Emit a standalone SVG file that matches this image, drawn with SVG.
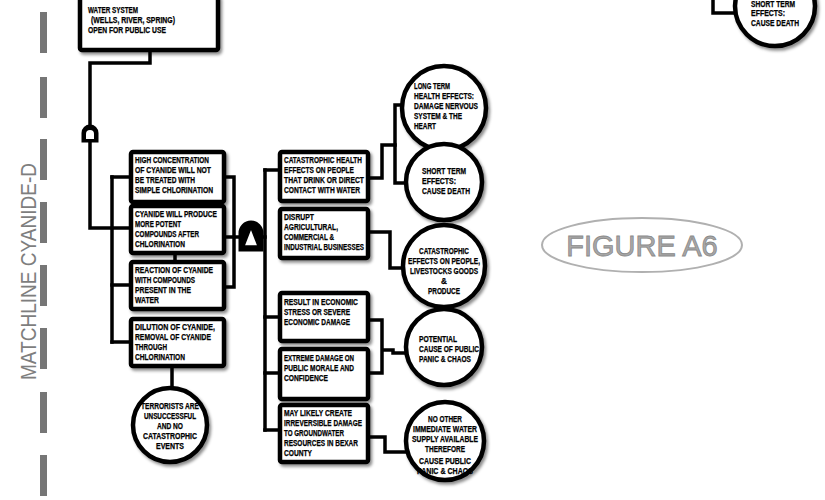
<svg xmlns="http://www.w3.org/2000/svg" width="825" height="500" viewBox="0 0 825 500">
  <defs>
    <filter id="ds" x="-20%" y="-20%" width="140%" height="140%">
      <feDropShadow dx="2" dy="2.5" stdDeviation="1.5" flood-color="#000" flood-opacity="0.45"/>
    </filter>
  </defs>
  <style>
    .box { fill: #fff; stroke: #000; stroke-width: 4.5; filter: url(#ds); }
    .evt { fill: #fff; stroke: #000; stroke-width: 4.5; filter: url(#ds); }
    .wire { fill: none; stroke: #000; stroke-width: 3.5; stroke-linejoin: miter; stroke-linecap: square; }
    .gate { fill: #000; stroke: #000; stroke-width: 3; }
    .t { font-family: "Liberation Sans", Arial, sans-serif; font-size: 8.2px; font-weight: bold; fill: #000; stroke: #000; stroke-width: 0.25; }
    .c { text-anchor: middle; }
    .dash { fill: #767676; }
    .match { font-family: "Liberation Sans", Arial, sans-serif; font-size: 22px; fill: #7e7e7e; }
    .fig { font-family: "Liberation Sans", Arial, sans-serif; font-size: 29px; fill: #a8a8a8; stroke: #8a8a8a; stroke-width: 0.8; text-anchor: middle; }
  </style>

  <!-- match line -->
  <g id="matchline">
    <rect class="dash" x="40" y="12" width="7" height="41"/>
    <rect class="dash" x="40" y="77" width="7" height="41"/>
    <rect class="dash" x="40" y="139" width="7" height="41"/>
    <rect class="dash" x="40" y="202" width="7" height="41"/>
    <rect class="dash" x="40" y="265" width="7" height="41"/>
    <rect class="dash" x="40" y="328" width="7" height="41"/>
    <rect class="dash" x="40" y="392" width="7" height="41"/>
    <rect class="dash" x="40" y="455" width="7" height="41"/>
    <text class="match" transform="translate(36,380) rotate(-90)" textLength="217" lengthAdjust="spacingAndGlyphs">MATCHLINE CYANIDE-D</text>
  </g>

  <!-- connectors -->
  <g id="connectors">
    <path class="wire" d="M150,50 V63 H90 V126"/>
    <path class="wire" d="M90,140 V228 H131"/>
    <path class="wire" d="M112,177 V342"/>
    <path class="wire" d="M112,177 H131 M112,285 H131 M112,342 H131"/>
    <path class="wire" d="M175,202 V206 M175,253 V262 M172,366 V388"/>
    <path class="wire" d="M224,177 H234 V287 H224"/>
    <path class="wire" d="M224,237 H265"/>
    <path class="wire" d="M265,170 V430"/>
    <path class="wire" d="M265,170 H280 M265,317 H280 M265,373 H280 M265,430 H280"/>
    <path class="wire" d="M368,178 H382 V145 H395"/>
    <path class="wire" d="M395,105 V183 M395,105 H404 M395,183 H406"/>
    <path class="wire" d="M368,232 H390 V268 H404"/>
    <path class="wire" d="M368,320 H382 V373 H368 M382,350 H393 V353 H406"/>
    <path class="wire" d="M368,437 H385 V452 H406"/>
    <path class="wire" d="M713,0 V13 H735"/>
  </g>

  <!-- gates -->
  <g id="gate-and">
    <path class="gate" d="M83,141 V133 A7,7 0 0 1 97,133 V141 Z"/>
    <path d="M86,139 V134 A4,4 0 0 1 94,134 V139" fill="#fff" stroke="none"/>
  </g>
  <g id="gate-inhibit">
    <path class="gate" d="M240,250 V233 A11,11 0 0 1 262,233 V250 Z"/>
    <path d="M251,228 L258,246 L244,246 Z" fill="#fff" stroke="#000" stroke-width="1.5"/>
  </g>

  <!-- top event -->
  <g id="water-system">
    <rect class="box" x="80" y="-4" width="138" height="54" rx="2"/>
    <text class="t" x="88" y="13" textLength="50" lengthAdjust="spacingAndGlyphs">WATER SYSTEM</text>
    <text class="t" x="91" y="23" textLength="84" lengthAdjust="spacingAndGlyphs">(WELLS, RIVER, SPRING)</text>
    <text class="t" x="88" y="33" textLength="78" lengthAdjust="spacingAndGlyphs">OPEN FOR PUBLIC USE</text>
  </g>

  <!-- left column -->
  <g id="high-concentration">
    <rect class="box" x="131" y="152" width="93" height="50" rx="2"/>
    <text class="t" x="135" y="163" textLength="74" lengthAdjust="spacingAndGlyphs">HIGH CONCENTRATION</text>
    <text class="t" x="135" y="173" textLength="76" lengthAdjust="spacingAndGlyphs">OF CYANIDE WILL NOT</text>
    <text class="t" x="135" y="183" textLength="60" lengthAdjust="spacingAndGlyphs">BE TREATED WITH</text>
    <text class="t" x="135" y="193" textLength="78" lengthAdjust="spacingAndGlyphs">SIMPLE CHLORINATION</text>
  </g>
  <g id="potent-compounds">
    <rect class="box" x="131" y="206" width="93" height="47" rx="2"/>
    <text class="t" x="135" y="217" textLength="82" lengthAdjust="spacingAndGlyphs">CYANIDE WILL PRODUCE</text>
    <text class="t" x="135" y="227" textLength="46" lengthAdjust="spacingAndGlyphs">MORE POTENT</text>
    <text class="t" x="135" y="237" textLength="64" lengthAdjust="spacingAndGlyphs">COMPOUNDS AFTER</text>
    <text class="t" x="135" y="247" textLength="50" lengthAdjust="spacingAndGlyphs">CHLORINATION</text>
  </g>
  <g id="reaction">
    <rect class="box" x="131" y="262" width="93" height="47" rx="2"/>
    <text class="t" x="135" y="273" textLength="78" lengthAdjust="spacingAndGlyphs">REACTION OF CYANIDE</text>
    <text class="t" x="135" y="283" textLength="60" lengthAdjust="spacingAndGlyphs">WITH COMPOUNDS</text>
    <text class="t" x="135" y="293" textLength="56" lengthAdjust="spacingAndGlyphs">PRESENT IN THE</text>
    <text class="t" x="135" y="303" textLength="24" lengthAdjust="spacingAndGlyphs">WATER</text>
  </g>
  <g id="dilution">
    <rect class="box" x="131" y="319" width="93" height="47" rx="2"/>
    <text class="t" x="135" y="330" textLength="80" lengthAdjust="spacingAndGlyphs">DILUTION OF CYANIDE,</text>
    <text class="t" x="135" y="340" textLength="76" lengthAdjust="spacingAndGlyphs">REMOVAL OF CYANIDE</text>
    <text class="t" x="135" y="350" textLength="32" lengthAdjust="spacingAndGlyphs">THROUGH</text>
    <text class="t" x="135" y="360" textLength="50" lengthAdjust="spacingAndGlyphs">CHLORINATION</text>
  </g>
  <g id="unsuccessful">
    <circle class="evt" cx="170" cy="425" r="37"/>
    <text class="t c" x="170" y="409" textLength="58" lengthAdjust="spacingAndGlyphs">TERRORISTS ARE</text>
    <text class="t c" x="170" y="419" textLength="52" lengthAdjust="spacingAndGlyphs">UNSUCCESSFUL</text>
    <text class="t c" x="170" y="429" textLength="26" lengthAdjust="spacingAndGlyphs">AND NO</text>
    <text class="t c" x="170" y="439" textLength="54" lengthAdjust="spacingAndGlyphs">CATASTROPHIC</text>
    <text class="t c" x="170" y="449" textLength="28" lengthAdjust="spacingAndGlyphs">EVENTS</text>
  </g>

  <!-- middle column -->
  <g id="health-effects">
    <rect class="box" x="280" y="152" width="88" height="49" rx="2"/>
    <text class="t" x="284" y="163" textLength="78" lengthAdjust="spacingAndGlyphs">CATASTROPHIC HEALTH</text>
    <text class="t" x="284" y="173" textLength="70" lengthAdjust="spacingAndGlyphs">EFFECTS ON PEOPLE</text>
    <text class="t" x="284" y="183" textLength="80" lengthAdjust="spacingAndGlyphs">THAT DRINK OR DIRECT</text>
    <text class="t" x="284" y="193" textLength="76" lengthAdjust="spacingAndGlyphs">CONTACT WITH WATER</text>
  </g>
  <g id="disrupt-business">
    <rect class="box" x="280" y="209" width="88" height="49" rx="2"/>
    <text class="t" x="284" y="220" textLength="30" lengthAdjust="spacingAndGlyphs">DISRUPT</text>
    <text class="t" x="284" y="230" textLength="54" lengthAdjust="spacingAndGlyphs">AGRICULTURAL,</text>
    <text class="t" x="284" y="240" textLength="50" lengthAdjust="spacingAndGlyphs">COMMERCIAL &amp;</text>
    <text class="t" x="284" y="250" textLength="80" lengthAdjust="spacingAndGlyphs">INDUSTRIAL BUSINESSES</text>
  </g>
  <g id="economic-stress">
    <rect class="box" x="280" y="293" width="88" height="48" rx="2"/>
    <text class="t" x="284" y="305" textLength="74" lengthAdjust="spacingAndGlyphs">RESULT IN ECONOMIC</text>
    <text class="t" x="284" y="315" textLength="66" lengthAdjust="spacingAndGlyphs">STRESS OR SEVERE</text>
    <text class="t" x="284" y="325" textLength="66" lengthAdjust="spacingAndGlyphs">ECONOMIC DAMAGE</text>
  </g>
  <g id="public-morale">
    <rect class="box" x="280" y="349" width="88" height="50" rx="2"/>
    <text class="t" x="284" y="361" textLength="70" lengthAdjust="spacingAndGlyphs">EXTREME DAMAGE ON</text>
    <text class="t" x="284" y="371" textLength="70" lengthAdjust="spacingAndGlyphs">PUBLIC MORALE AND</text>
    <text class="t" x="284" y="381" textLength="44" lengthAdjust="spacingAndGlyphs">CONFIDENCE</text>
  </g>
  <g id="groundwater">
    <rect class="box" x="280" y="405" width="88" height="57" rx="2"/>
    <text class="t" x="284" y="416" textLength="68" lengthAdjust="spacingAndGlyphs">MAY LIKELY CREATE</text>
    <text class="t" x="284" y="426" textLength="78" lengthAdjust="spacingAndGlyphs">IRREVERSIBLE DAMAGE</text>
    <text class="t" x="284" y="436" textLength="60" lengthAdjust="spacingAndGlyphs">TO GROUNDWATER</text>
    <text class="t" x="284" y="446" textLength="74" lengthAdjust="spacingAndGlyphs">RESOURCES IN BEXAR</text>
    <text class="t" x="284" y="456" textLength="28" lengthAdjust="spacingAndGlyphs">COUNTY</text>
  </g>

  <!-- right column outcomes -->
  <g id="long-term">
    <circle class="evt" cx="444" cy="108" r="42"/>
    <text class="t" x="414" y="89" textLength="36" lengthAdjust="spacingAndGlyphs">LONG TERM</text>
    <text class="t" x="414" y="99" textLength="60" lengthAdjust="spacingAndGlyphs">HEALTH EFFECTS:</text>
    <text class="t" x="414" y="109" textLength="64" lengthAdjust="spacingAndGlyphs">DAMAGE NERVOUS</text>
    <text class="t" x="414" y="119" textLength="48" lengthAdjust="spacingAndGlyphs">SYSTEM &amp; THE</text>
    <text class="t" x="414" y="129" textLength="22" lengthAdjust="spacingAndGlyphs">HEART</text>
  </g>
  <g id="short-term">
    <circle class="evt" cx="444" cy="182" r="38"/>
    <text class="t" x="422" y="174" textLength="44" lengthAdjust="spacingAndGlyphs">SHORT TERM</text>
    <text class="t" x="422" y="184" textLength="34" lengthAdjust="spacingAndGlyphs">EFFECTS:</text>
    <text class="t" x="422" y="194" textLength="48" lengthAdjust="spacingAndGlyphs">CAUSE DEATH</text>
  </g>
  <g id="livestock">
    <circle class="evt" cx="444" cy="266" r="41"/>
    <text class="t c" x="444" y="254" textLength="50" lengthAdjust="spacingAndGlyphs">CATASTROPHIC</text>
    <text class="t c" x="444" y="264" textLength="72" lengthAdjust="spacingAndGlyphs">EFFECTS ON PEOPLE,</text>
    <text class="t c" x="444" y="274" textLength="68" lengthAdjust="spacingAndGlyphs">LIVESTOCKS GOODS</text>
    <text class="t c" x="444" y="284">&amp;</text>
    <text class="t c" x="444" y="294" textLength="32" lengthAdjust="spacingAndGlyphs">PRODUCE</text>
  </g>
  <g id="public-panic">
    <circle class="evt" cx="444" cy="347" r="38"/>
    <text class="t" x="419" y="342" textLength="38" lengthAdjust="spacingAndGlyphs">POTENTIAL</text>
    <text class="t" x="419" y="352" textLength="60" lengthAdjust="spacingAndGlyphs">CAUSE OF PUBLIC</text>
    <text class="t" x="419" y="362" textLength="52" lengthAdjust="spacingAndGlyphs">PANIC &amp; CHAOS</text>
  </g>
  <g id="no-water-supply">
    <circle class="evt" cx="445" cy="441" r="39"/>
    <text class="t c" x="445" y="422" textLength="34" lengthAdjust="spacingAndGlyphs">NO OTHER</text>
    <text class="t c" x="445" y="432" textLength="64" lengthAdjust="spacingAndGlyphs">IMMEDIATE WATER</text>
    <text class="t c" x="445" y="442" textLength="66" lengthAdjust="spacingAndGlyphs">SUPPLY AVAILABLE</text>
    <text class="t c" x="445" y="452" textLength="40" lengthAdjust="spacingAndGlyphs">THEREFORE</text>
    <text class="t c" x="445" y="464" textLength="52" lengthAdjust="spacingAndGlyphs">CAUSE PUBLIC</text>
    <text class="t c" x="445" y="474" textLength="56" lengthAdjust="spacingAndGlyphs">PANIC &amp; CHAOS</text>
  </g>

  <!-- continued from previous sheet -->
  <g id="short-term-top">
    <circle class="evt" cx="775" cy="6" r="40"/>
    <text class="t" x="751" y="7" textLength="44" lengthAdjust="spacingAndGlyphs">SHORT TERM</text>
    <text class="t" x="751" y="16" textLength="34" lengthAdjust="spacingAndGlyphs">EFFECTS:</text>
    <text class="t" x="751" y="26" textLength="48" lengthAdjust="spacingAndGlyphs">CAUSE DEATH</text>
  </g>

  <!-- figure label -->
  <g id="figure-label">
    <ellipse cx="642" cy="245" rx="100" ry="27" fill="none" stroke="#b0b0b0" stroke-width="2"/>
    <text class="fig" x="642" y="256">FIGURE A6</text>
  </g>
</svg>
